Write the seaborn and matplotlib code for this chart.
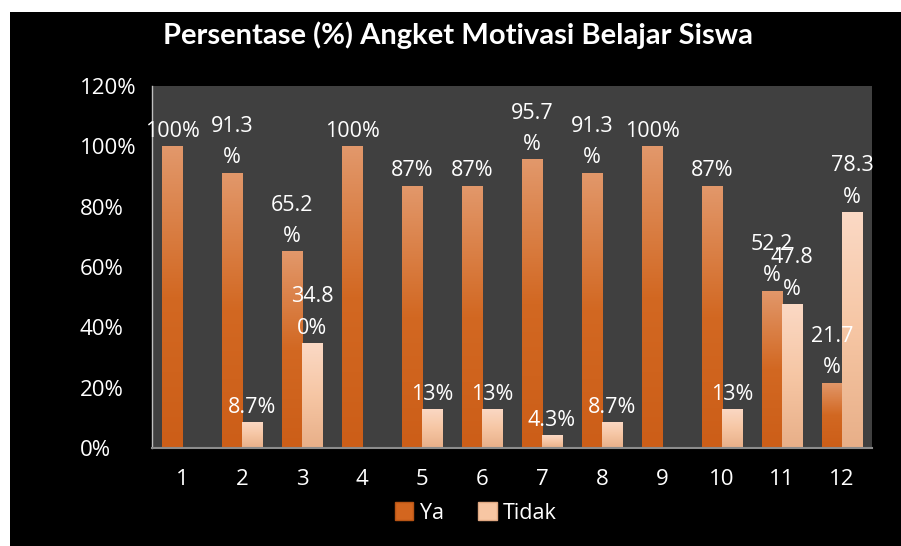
import numpy as np
import pandas as pd
import matplotlib
matplotlib.use('Agg')
import matplotlib.pyplot as plt
import seaborn as sns
from matplotlib.colors import LinearSegmentedColormap
from matplotlib.patches import Rectangle, Patch

# data angket
pertanyaan = ['1', '2', '3', '4', '5', '6', '7', '8', '9', '10', '11', '12']
ya = [100, 91.3, 65.2, 100, 87, 87, 95.7, 91.3, 100, 87, 52.2, 21.7]
tidak = [0, 8.7, 34.8, 0, 13, 13, 4.3, 8.7, 0, 13, 47.8, 78.3]
label_ya = ['100%', '91.3\n%', '65.2\n%', '100%', '87%', '87%', '95.7\n%', '91.3\n%',
            '100%', '87%', '52.2\n%', '21.7\n%']
label_tidak = ['', '8.7%', '34.8\n0%', '', '13%', '13%', '4.3%', '8.7%',
               '', '13%', '47.8\n%', '78.3\n%']
y_ticks = [0, 20, 40, 60, 80, 100, 120]

df = pd.DataFrame({
    'Pertanyaan': pertanyaan * 2,
    'Persen': ya + tidak,
    'Jawaban': ['Ya'] * len(ya) + ['Tidak'] * len(tidak),
})

sns.set_style('dark')
plt.rcParams['font.family'] = ['Open Sans', 'DejaVu Sans']

warna = {'Ya': '#D3661F', 'Tidak': '#F7C6A3'}
gradasi = {
    'Ya': LinearSegmentedColormap.from_list('ya', ['#CC5E18', '#D26822', '#E2986B']),
    'Tidak': LinearSegmentedColormap.from_list('tidak', ['#E8AF88', '#F6C6A4', '#FBD9C5']),
}

fig = plt.figure(figsize=(9.01, 5.46), dpi=100, facecolor='white')
fig.patches.append(Rectangle((10 / 901, 0), 891 / 901, 534 / 546, transform=fig.transFigure,
                             facecolor='black', edgecolor='none', zorder=-5))
ax = fig.add_axes([152 / 901, 1 - 448 / 546, 720 / 901, 362 / 546])
ax.set_facecolor('#404040')

sns.barplot(data=df, x='Pertanyaan', y='Persen', hue='Jawaban', palette=warna,
            width=0.667, saturation=1, legend=False, ax=ax)

# gradasi warna pada batang
grad = np.linspace(0, 1, 256).reshape(-1, 1)
n = len(pertanyaan)
for i, bar in enumerate(ax.patches[:2 * n]):
    jenis = 'Ya' if i < n else 'Tidak'
    x0, w, h = bar.get_x(), bar.get_width(), bar.get_height()
    if h <= 0:
        continue
    bar.set_edgecolor('none')
    im = ax.imshow(grad, extent=[x0, x0 + w, 0, h], origin='lower', aspect='auto',
                   cmap=gradasi[jenis], zorder=bar.get_zorder() + 0.1)
    im.set_clip_path(bar)

# label nilai
for i in range(n):
    for val, lab, dx in [(ya[i], label_ya[i], -1 / 6), (tidak[i], label_tidak[i], 1 / 6)]:
        if lab:
            ax.annotate(lab, (i + dx, val), xytext=(0, 3), textcoords='offset points',
                        ha='center', va='bottom', color='white', fontsize=15.5,
                        linespacing=1.65, zorder=5)

ax.set_xlim(-0.5, n - 0.5)
ax.set_ylim(0, 120)
ax.set_yticks(y_ticks)
ax.set_yticklabels([f'{t}%' for t in y_ticks], ha='left')
ax.tick_params(axis='y', colors='white', labelsize=16, length=0, pad=52)
ax.tick_params(axis='x', colors='white', labelsize=16, length=0, pad=15)
ax.set_xlabel('')
ax.set_ylabel('')
ax.grid(False)
for s in ['top', 'right']:
    ax.spines[s].set_visible(False)
ax.spines['left'].set_visible(True)
ax.spines['left'].set_color('#BFBFBF')
ax.spines['left'].set_linewidth(1)
ax.spines['bottom'].set_visible(True)
ax.spines['bottom'].set_color('#8C8C8C')
ax.spines['bottom'].set_linewidth(1.5)

fig.text(458 / 901, 1 - 35 / 546, 'Persentase (%) Angket Motivasi Belajar Siswa',
         ha='center', va='center', color='white', fontsize=21, fontweight='bold',
         family=['Lato', 'DejaVu Sans'])

handles = [Patch(facecolor=warna['Ya'], edgecolor='#B85515'),
           Patch(facecolor=warna['Tidak'], edgecolor='#E0A882')]
fig.legend(handles, ['Ya', 'Tidak'], loc='center', bbox_to_anchor=(476 / 901, 1 - 513 / 546),
           ncol=2, frameon=False, labelcolor='white', fontsize=15.5, handlelength=0.85,
           handleheight=0.85, handletextpad=0.3, columnspacing=1.6)

fig.savefig('out.png', dpi=100, facecolor=fig.get_facecolor())
